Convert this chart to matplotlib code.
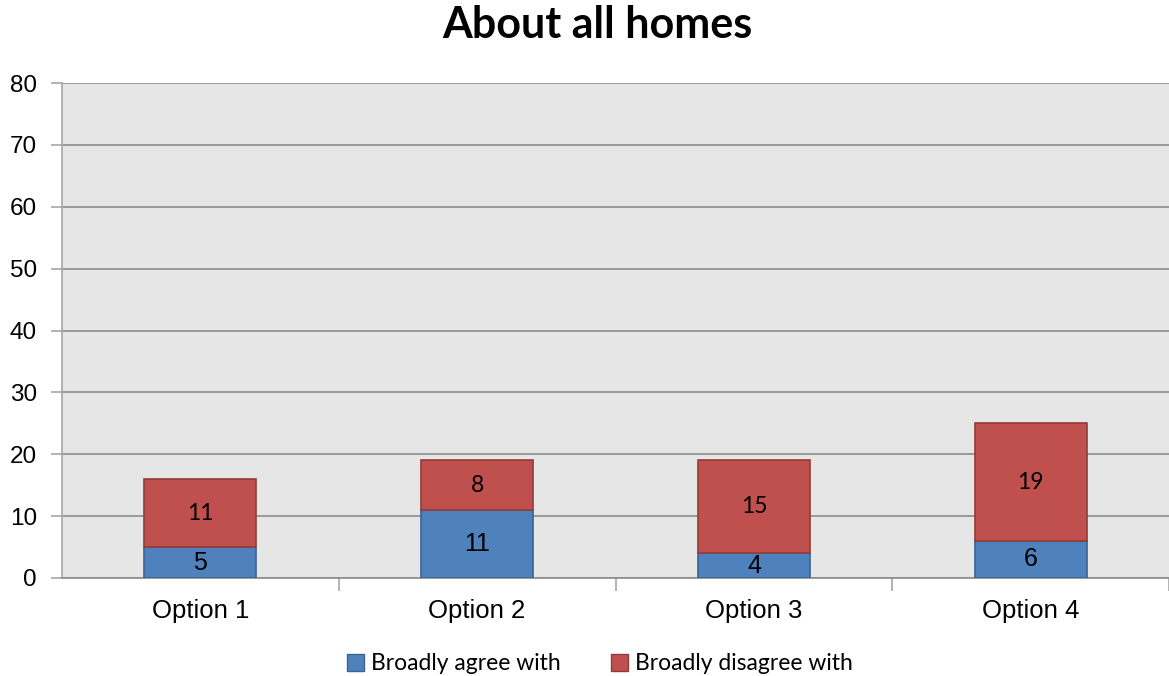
import matplotlib
matplotlib.use("Agg")
import matplotlib.pyplot as plt
from matplotlib.patches import Patch
import numpy as np

categories = ["Option 1", "Option 2", "Option 3", "Option 4"]
agree = [5, 11, 4, 6]
disagree = [11, 8, 15, 19]
series_names = ["Broadly agree with", "Broadly disagree with"]
y_ticks = [0, 10, 20, 30, 40, 50, 60, 70, 80]

blue, blue_edge = "#4F81BD", "#3A6492"
red, red_edge = "#C0504D", "#933B39"

fig = plt.figure(figsize=(11.69, 6.76), dpi=100)
ax = fig.add_axes([62 / 1169, 98 / 676, 1107 / 1169, 495 / 676])
ax.set_facecolor("#E6E6E6")

x = np.arange(len(categories)) + 0.5
width = 0.405
b1 = ax.bar(x, agree, width, color=blue, edgecolor=blue_edge, linewidth=1.2, zorder=3)
b2 = ax.bar(x, disagree, width, bottom=agree, color=red, edgecolor=red_edge,
            linewidth=1.2, zorder=3)

for xi, a, d in zip(x, agree, disagree):
    ax.text(xi, a / 2, str(a), ha="center", va="center", fontsize=18,
            family="Liberation Sans", zorder=4)
    ax.text(xi, a + d / 2, str(d), ha="center", va="center", fontsize=16.5,
            family="Lato", zorder=4)

ax.set_xlim(0, len(categories))
ax.set_ylim(0, 80)
ax.set_yticks(y_ticks)
ax.set_yticklabels([str(t) for t in y_ticks], family="Liberation Sans", fontsize=17.5)
ax.yaxis.grid(True, color="#8C8C8C", linewidth=1.2, zorder=1)
ax.tick_params(axis="y", length=8, color="#A6A6A6", width=1.2, pad=10)

ax.set_xticks(x)
ax.set_xticklabels(categories, family="Liberation Sans", fontsize=18.5)
ax.tick_params(axis="x", which="major", length=0, pad=15)
ax.set_xticks(np.arange(1, len(categories) + 1), minor=True)
ax.tick_params(axis="x", which="minor", length=9, color="#A6A6A6", width=1.2)

for side in ["top", "right"]:
    ax.spines[side].set_visible(False)
ax.spines["left"].set_color("#A6A6A6")
ax.spines["left"].set_linewidth(1.2)
ax.spines["bottom"].set_color("#8C8C8C")
ax.spines["bottom"].set_linewidth(1.2)

fig.text(597 / 1169, 1 - 25 / 676, "About all homes", ha="center", va="center",
         fontsize=31, fontweight="bold", family="Lato")

handles = [Patch(facecolor=blue, edgecolor=blue_edge),
           Patch(facecolor=red, edgecolor=red_edge)]
fig.legend(handles, series_names, loc="center", bbox_to_anchor=(600 / 1169, 1 - 664 / 676),
           ncol=2, frameon=False, prop={"family": "Lato", "size": 16.5},
           handlelength=0.75, handleheight=0.75, handletextpad=0.3, columnspacing=2.2)

fig.savefig("out.png", dpi=100)
